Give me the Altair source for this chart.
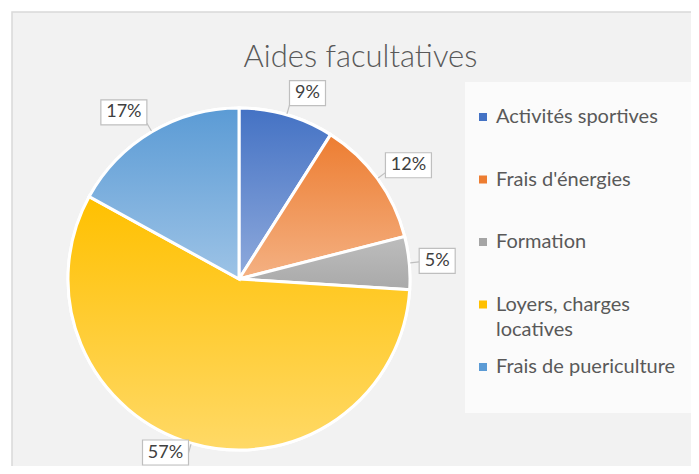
import altair as alt
import pandas as pd
from math import pi

TITLE = "Aides facultatives"
categories = ["Activités sportives", "Frais d'énergies", "Formation",
              "Loyers, charges locatives", "Frais de puericulture"]
values = [9, 12, 5, 57, 17]
labels = ["9%", "12%", "5%", "57%", "17%"]

base_colors = ["#4472C4", "#ED7D31", "#A5A5A5", "#FFC000", "#5B9BD5"]
grad_top = ["#4472C4", "#ED7D31", "#BDBDBD", "#FFC000", "#5B9BD5"]
grad_bottom = ["#8FAADC", "#F4B183", "#A9A9A9", "#FFD966", "#9DC3E6"]

df = pd.DataFrame({"cat": categories, "value": values, "label": labels,
                   "order": list(range(len(categories)))})

W, H = 683, 458
CX, CY = 231, 271
R = 171
RA = 181   # anchor radius of the label boxes
RE = 172   # pie edge for leader lines
BH = 25    # label box height

theta_scale = alt.Scale(domain=[0, 100], range=[0, 2 * pi])

base = alt.Chart(df).transform_window(
    cum="sum(value)", sort=[alt.SortField("order")], frame=[None, 0]
).transform_calculate(
    start="datum.cum - datum.value"
).transform_calculate(
    ang="(datum.cum - datum.value / 2) / 100 * 2 * PI"
)

enc_arc = dict(
    theta=alt.Theta("start:Q", scale=theta_scale, stack=None),
    theta2="cum:Q",
    x=alt.value(CX),
    y=alt.value(CY),
)

legend = alt.Legend(
    title=None, orient="none", legendX=465, legendY=99,
    clipHeight=20, rowPadding=17.5, symbolType="square", symbolSize=64,
    symbolStrokeWidth=0, labelFont="Lato", labelFontSize=20,
    labelColor="#595959", labelOffset=3, labelLimit=300, padding=0,
    labelExpr="datum.label == 'Loyers, charges locatives' ? ['Loyers, charges', 'locatives'] : [datum.label, ' ']",
)

arc_base = base.mark_arc(outerRadius=R, stroke="white", strokeWidth=3).encode(
    color=alt.Color("cat:N", scale=alt.Scale(domain=categories, range=base_colors),
                    legend=legend),
    **enc_arc,
)

grad_layers = []
for c, t, b in zip(categories, grad_top, grad_bottom):
    grad_layers.append(
        base.transform_filter(alt.datum.cat == c).mark_arc(
            outerRadius=R, stroke="white", strokeWidth=3,
            fill=alt.Gradient(
                gradient="linear", x1=0, y1=0, x2=0, y2=1,
                stops=[alt.GradientStop(color=t, offset=0),
                       alt.GradientStop(color=b, offset=1)],
            ),
        ).encode(**enc_arc)
    )

lab = base.transform_calculate(
    px=f"{CX} + {RA} * sin(datum.ang)"
).transform_calculate(
    py=f"{CY} - {RA} * cos(datum.ang)"
).transform_calculate(
    ex=f"{CX} + {RE} * sin(datum.ang)"
).transform_calculate(
    ey=f"{CY} - {RE} * cos(datum.ang)"
).transform_calculate(
    w="16 + 10 * length(datum.label)"
).transform_calculate(
    lx="datum.px + (sin(datum.ang) >= 0 ? 1 : -1) * datum.w / 2"
).transform_calculate(
    ly=f"min(datum.py - cos(datum.ang) * {BH / 2}, {H - BH / 2 - 1})"
).transform_calculate(
    bx1="datum.lx - datum.w / 2"
).transform_calculate(
    bx2="datum.lx + datum.w / 2"
).transform_calculate(
    by1=f"datum.ly - {BH / 2}"
).transform_calculate(
    by2=f"datum.ly + {BH / 2}"
)

leaders = lab.mark_rule(color="#BFBFBF", strokeWidth=1.2).encode(
    x=alt.X("ex:Q", scale=None, axis=None), y=alt.Y("ey:Q", scale=None, axis=None),
    x2="px:Q", y2="py:Q",
)
boxes = lab.mark_rect(fill="white", stroke="#BFBFBF", strokeWidth=1.2).encode(
    x=alt.X("bx1:Q", scale=None, axis=None), x2="bx2:Q",
    y=alt.Y("by1:Q", scale=None, axis=None), y2="by2:Q",
)
texts = lab.mark_text(font="Lato", fontSize=18, color="#404040").encode(
    x=alt.X("lx:Q", scale=None, axis=None), y=alt.Y("ly:Q", scale=None, axis=None),
    text="label:N",
)

one = alt.Data(values=[{"t": TITLE}])
frame = alt.Chart(one).mark_rect(fill="#F2F2F2", stroke="#D9D9D9", strokeWidth=1.5).encode(
    x=alt.value(4), x2=alt.value(720), y=alt.value(4), y2=alt.value(500)
)
legend_box = alt.Chart(one).mark_rect(fill="#FBFBFB").encode(
    x=alt.value(457), x2=alt.value(720), y=alt.value(74), y2=alt.value(405)
)
title = alt.Chart(one).mark_text(font="Lato", fontSize=31, fontWeight=300,
                                 color="#595959", baseline="alphabetic").encode(
    text="t:N", x=alt.value(352.5), y=alt.value(59)
)

chart = alt.layer(
    frame, legend_box, arc_base, *grad_layers, leaders, boxes, texts, title
).properties(
    width=W, height=H, autosize="none", padding=0
).configure(
    style={"guide-label": {"lineHeight": 25}}
).configure_view(stroke=None)

chart.save("out.html", embed_options={"renderer": "svg", "actions": False})
